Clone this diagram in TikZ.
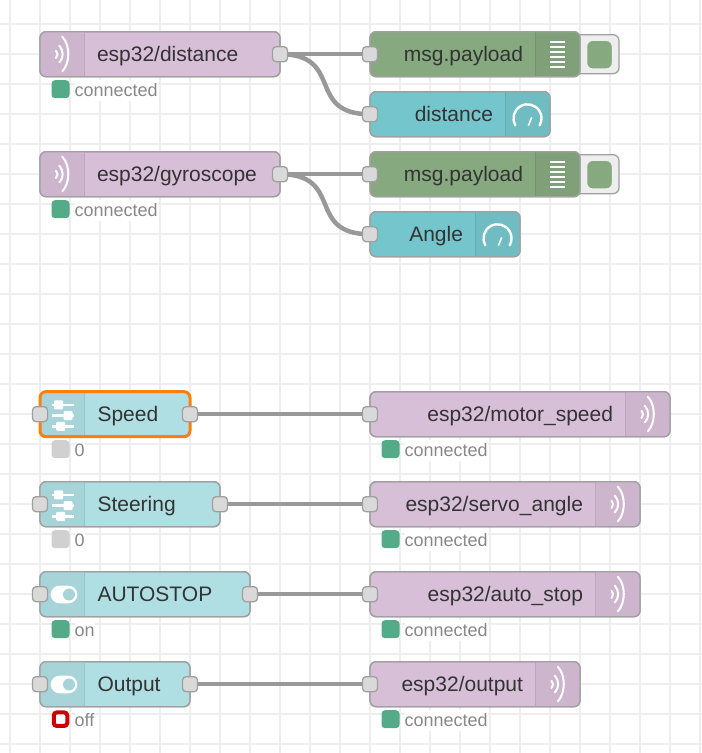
\documentclass[tikz,border=0pt]{standalone}
\usepackage{fontspec}
\setmainfont{Liberation Sans}
\definecolor{gridc}{HTML}{EEEEEE}
\definecolor{edge}{HTML}{A0A0A0}
\definecolor{wirec}{HTML}{999999}
\definecolor{portc}{HTML}{D9D9D9}
\definecolor{txt}{HTML}{333333}
\definecolor{stxt}{HTML}{888888}
\definecolor{mqtt}{HTML}{D8BFD8}
\definecolor{mqttb}{HTML}{CDB5CD}
\definecolor{dbg}{HTML}{87A980}
\definecolor{dbgb}{HTML}{80A079}
\definecolor{gauge}{HTML}{75C6CC}
\definecolor{gaugeb}{HTML}{6FBCC2}
\definecolor{ctl}{HTML}{B0DFE3}
\definecolor{ctlb}{HTML}{A7D4D8}
\definecolor{stgreen}{HTML}{55AA88}
\definecolor{stgrey}{HTML}{D0D0D0}
\definecolor{stred}{HTML}{CC0000}
\definecolor{selc}{HTML}{FF7F0E}
\tikzset{
  x=1pt,y=-1pt,
  flowbox/.style={draw=edge,line width=1.3pt,rounded corners=6pt,inner sep=0pt,outer sep=0pt,minimum height=45pt},
  portbox/.style={draw=edge,fill=portc,line width=1.3pt,rounded corners=3.5pt,inner sep=0pt,outer sep=0pt,minimum width=15pt,minimum height=15pt},
  flowtext/.style={text=txt,font=\fontsize{21}{24}\selectfont,inner sep=0pt,outer sep=0pt},
  stattext/.style={text=stxt,font=\fontsize{18}{21}\selectfont,fill=white,inner xsep=0pt,inner ysep=1pt,text depth=4pt,text height=15pt},
  statdot/.style={rounded corners=3.5pt,inner sep=0pt,outer sep=0pt,minimum width=18pt,minimum height=18pt},
  wire/.style={draw=wirec,line width=4.5pt},
  gridline/.style={draw=gridc,line width=2pt},
  icon/.style={draw=white,line width=2pt,line cap=round},
}
\newcommand{\flownode}[7]{%
  \pgfmathsetmacro{\fcx}{(#2+#3)/2}\pgfmathsetmacro{\fcy}{#4+22.5}\pgfmathsetmacro{\fw}{#3-#2}%
  \node[flowbox,fill=#5,minimum width=\fw pt] (#1) at (\fcx,\fcy) {};
  \begin{scope}
    \clip[rounded corners=6pt] (#2,#4) rectangle (#3,#4+45);
    \ifnum#7<0
      \fill[#6] (#2,#4) rectangle (#2+44,#4+45);
      \draw[#6!92!black,line width=1pt] (#2+44,#4) -- (#2+44,#4+45);
    \else
      \fill[#6] (#3-45,#4) rectangle (#3,#4+45);
      \draw[#6!92!black,line width=1pt] (#3-45,#4) -- (#3-45,#4+45);
    \fi
  \end{scope}
  \draw[edge,line width=1.3pt,rounded corners=6pt] (#2,#4) rectangle (#3,#4+45);
}
\newcommand{\leftlabel}[4]{\node[flowtext,anchor=base west] (#1) at (#2,#3+29.3) {#4};}
\newcommand{\rightlabel}[4]{\node[flowtext,anchor=base east] (#1) at (#2,#3+29.3) {#4};}
\newcommand{\waveicon}[2]{%
  \begin{scope}[shift={(#1,#2)}]
    \draw[icon] (0.3,-17.5) .. controls (8.3,-9) and (8.3,8.5) .. (0.3,17.2);
    \draw[icon] (-2.7,-8.5) .. controls (1.8,-4) and (1.8,4) .. (-2.7,8.2);
    \draw[icon] (-6,-3.5) .. controls (-3.9,-1.5) and (-3.9,1.5) .. (-6,3.8);
  \end{scope}}
\newcommand{\listicon}[2]{%
  \begin{scope}[shift={(#1,#2)}]
    \foreach \k in {-12.5,-7.5,-2.5,2.5,7.5,12.5}
      \draw[white,line width=1.8pt] (-7.5,\k) -- (7.5,\k);
  \end{scope}}
\newcommand{\gaugeicon}[2]{%
  \begin{scope}[shift={(#1,#2)}]
    \draw[icon,line width=2.4pt] (-12.1,11.1) arc[start angle=210,end angle=-30,radius=14pt];
    \draw[white,line width=1.6pt] (0.8,11.5) -- (4.2,3.2);
  \end{scope}}
\newcommand{\slidericon}[2]{%
  \begin{scope}[shift={(#1,#2)}]
    \foreach \k in {-9.3,1.5,12.2}
      \draw[white,line width=2.5pt] (-10.5,\k) -- (11.5,\k);
    \fill[white,rounded corners=1pt] (-8,-13.8) rectangle (1,-4.8);
    \fill[white,rounded corners=1pt] (1.5,-3) rectangle (10.5,6);
    \fill[white,rounded corners=1pt] (-5.8,7.7) rectangle (3.2,16.7);
  \end{scope}}
\newcommand{\toggleicon}[2]{%
  \begin{scope}[shift={(#1,#2)}]
    \fill[white,rounded corners=8.8pt] (-11.3,-8.8) rectangle (15.3,8.8);
    \fill[ctlb] (7,0) circle[radius=6];
  \end{scope}}
\newcommand{\dbgwidget}[2]{%
  \draw[edge,fill=gridc,line width=1.3pt,rounded corners=6pt] (#1-12,#2+3) -- (#1+39,#2+3) -- (#1+39,#2+42) -- (#1-12,#2+42);
}
\newcommand{\statusnode}[5]{%
  \node[stattext,anchor=base west] (#1t) at (#2+23,#3+6.7) {#5};
  \node[statdot,fill=#4] (#1d) at (#2+9,#3-0.5) {};
}
\begin{document}
\begin{tikzpicture}
\useasboundingbox (0,0) rectangle (702,753);
\pgfdeclarelayer{gridlayer}\pgfdeclarelayer{wires}\pgfsetlayers{gridlayer,wires,main}
\begin{pgfonlayer}{gridlayer}
  \foreach \xx in {10,40,...,700} \draw[gridline] (\xx,0) -- (\xx,753);
  \foreach \yy in {24,54,...,744} \draw[gridline] (0,\yy) -- (702,\yy);
\end{pgfonlayer}
\begin{scope}[yshift=-0.7pt]
\dbgwidget{580}{31}
\node[draw=gridc,line width=1pt,fill=dbg,rounded corners=6pt,inner sep=0pt,minimum width=25.5pt,minimum height=28.5pt] (w1) at (599.5,54) {};
\dbgwidget{580}{151}
\node[draw=gridc,line width=1pt,fill=dbg,rounded corners=6pt,inner sep=0pt,minimum width=25.5pt,minimum height=28.5pt] (w2) at (599.5,174) {};

\flownode{dist}{40}{280}{31}{mqtt}{mqttb}{-1}
\waveicon{62}{53.5}
\leftlabel{distl}{97}{31}{esp32/distance}
\node[portbox] (disto) at (280,53.5) {};
\statusnode{dists}{51.5}{89}{stgreen}{connected}

\flownode{pay}{370}{580}{31}{dbg}{dbgb}{1}
\listicon{557.5}{53.5}
\rightlabel{payl}{523}{31}{msg.payload}
\node[portbox] (payi) at (370,53.5) {};

\flownode{gd}{370}{550}{91}{gauge}{gaugeb}{1}
\gaugeicon{527.5}{113.5}
\rightlabel{gdl}{493}{91}{distance}
\node[portbox] (gdi) at (370,113.5) {};

\flownode{gyro}{40}{280}{151}{mqtt}{mqttb}{-1}
\waveicon{62}{173.5}
\leftlabel{gyrol}{97}{151}{esp32/gyroscope}
\node[portbox] (gyroo) at (280,173.5) {};
\statusnode{gyros}{51.5}{209}{stgreen}{connected}

\flownode{payb}{370}{580}{151}{dbg}{dbgb}{1}
\listicon{557.5}{173.5}
\rightlabel{paybl}{523}{151}{msg.payload}
\node[portbox] (paybi) at (370,173.5) {};

\flownode{ga}{370}{520}{211}{gauge}{gaugeb}{1}
\gaugeicon{497.5}{233.5}
\rightlabel{gal}{463}{211}{Angle}
\node[portbox] (gai) at (370,233.5) {};

\flownode{sp}{40}{190}{391}{ctl}{ctlb}{-1}
\draw[selc,line width=3pt,rounded corners=6pt] (40,391) rectangle (190,436);
\slidericon{62}{413.5}
\leftlabel{spl}{97.5}{391}{Speed}
\node[portbox] (spi) at (40,413.5) {};
\node[portbox] (spo) at (190,413.5) {};
\statusnode{sps}{51.5}{449}{stgrey}{0}

\flownode{st}{40}{220}{481}{ctl}{ctlb}{-1}
\slidericon{62}{503.5}
\leftlabel{stl}{97.5}{481}{Steering}
\node[portbox] (sti) at (40,503.5) {};
\node[portbox] (sto) at (220,503.5) {};
\statusnode{sts}{51.5}{539}{stgrey}{0}

\flownode{au}{40}{250}{571}{ctl}{ctlb}{-1}
\toggleicon{62}{593.8}
\leftlabel{aul}{97.5}{571}{AUTOSTOP}
\node[portbox] (aui) at (40,593.5) {};
\node[portbox] (auo) at (250,593.5) {};
\statusnode{aus}{51.5}{629}{stgreen}{on}

\flownode{ou}{40}{190}{661}{ctl}{ctlb}{-1}
\toggleicon{62}{683.8}
\leftlabel{oul}{97.5}{661}{Output}
\node[portbox] (oui) at (40,683.5) {};
\node[portbox] (ouo) at (190,683.5) {};
\node[stattext,anchor=base west] (oust) at (74.5,725.7) {off};
\node[draw=stred,fill=white,line width=4pt,rounded corners=3pt,inner sep=0pt,minimum width=13.5pt,minimum height=13.5pt] (ousd) at (60.5,718.5) {};

\flownode{mo}{370}{670}{391}{mqtt}{mqttb}{1}
\waveicon{647.5}{413.5}
\rightlabel{mol}{613}{391}{esp32/motor\_speed}
\node[portbox] (moi) at (370,413.5) {};
\statusnode{mos}{381.5}{449}{stgreen}{connected}

\flownode{se}{370}{640}{481}{mqtt}{mqttb}{1}
\waveicon{617.5}{503.5}
\rightlabel{sel}{583}{481}{esp32/servo\_angle}
\node[portbox] (sei) at (370,503.5) {};
\statusnode{ses}{381.5}{539}{stgreen}{connected}

\flownode{as}{370}{640}{571}{mqtt}{mqttb}{1}
\waveicon{617.5}{593.5}
\rightlabel{asl}{583}{571}{esp32/auto\_stop}
\node[portbox] (asi) at (370,593.5) {};
\statusnode{ass}{381.5}{629}{stgreen}{connected}

\flownode{eo}{370}{580}{661}{mqtt}{mqttb}{1}
\waveicon{557.5}{683.5}
\rightlabel{eol}{523}{661}{esp32/output}
\node[portbox] (eoi) at (370,683.5) {};
\statusnode{eos}{381.5}{719}{stgreen}{connected}

\begin{pgfonlayer}{wires}
  \draw[wire] (disto.center) -- (payi.center);
  \draw[wire] (disto.center) .. controls +(65,0) and +(-65,0) .. (gdi.center);
  \draw[wire] (gyroo.center) -- (paybi.center);
  \draw[wire] (gyroo.center) .. controls +(65,0) and +(-65,0) .. (gai.center);
  \draw[wire] (spo.center) -- (moi.center);
  \draw[wire] (sto.center) -- (sei.center);
  \draw[wire] (auo.center) -- (asi.center);
  \draw[wire] (ouo.center) -- (eoi.center);
\end{pgfonlayer}
\end{scope}
\end{tikzpicture}
\end{document}
